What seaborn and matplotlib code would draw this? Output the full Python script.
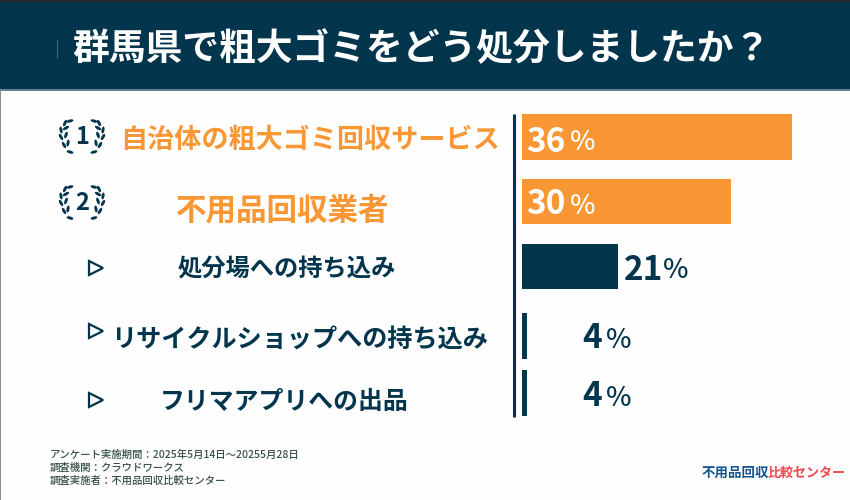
import matplotlib
matplotlib.use("Agg")
import matplotlib.pyplot as plt
import seaborn as sns
from matplotlib.patches import Ellipse, Rectangle

W, H = 850, 500

NAVY = "#03354d"
ORANGE = "#f89734"

TITLE = "群馬県で粗大ゴミをどう処分しましたか？"
answers = [
    "自治体の粗大ゴミ回収サービス",
    "不用品回収業者",
    "処分場への持ち込み",
    "リサイクルショップへの持ち込み",
    "フリマアプリへの出品",
]
# percentages as printed on the chart
share_labels = [36, 30, 21, 4, 4]
# bar lengths as drawn, they are not proportional to the printed numbers
bar_lengths = [36, 27.9, 12.8, 0.65, 0.65]
groups = ["top", "top", "other", "other", "other"]
notes = [
    "アンケート実施期間：2025年5月14日～20255月28日",
    "調査機関：クラウドワークス",
    "調査実施者：不用品回収比較センター",
]

# layout, in reference pixels
row_y = [137, 201.7, 266.2, 336, 393]
label_x = [310, 283, 287, 300, 284]
label_y = [140, 210, 269, 339, 402]
label_size = [19.5, 22, 17.5, 18.1, 17.9]
value_x = [526, 526, 624, 582, 582]
value_y = [142, 205, 270, 339, 397]
percent_x = [570, 570, 663, 606, 606]
marker_y = [267.5, 331, 399.5]

sns.set_theme(style="white")
plt.rcParams["font.family"] = ["Noto Sans CJK JP", "DejaVu Sans"]


def px_x(x):
    return x / W


def px_y(y):
    return 1 - y / H


fig = plt.figure(figsize=(W / 100, H / 100), dpi=100, facecolor="#fefefe")

# bars, the axes spans 0-36 over 522-792 px
ax = fig.add_axes([px_x(522), px_y(430), (792 - 522) / W, (430 - 100) / H])
ax.patch.set_alpha(0)
sns.barplot(
    x=bar_lengths,
    y=row_y,
    hue=groups,
    palette={"top": ORANGE, "other": NAVY},
    saturation=1,
    orient="h",
    native_scale=True,
    dodge=False,
    width=45 / 56.999,
    linewidth=0,
    edgecolor="none",
    legend=False,
    ax=ax,
)
ax.set_xlim(0, 36)
ax.set_ylim(430, 100)
ax.axis("off")

# overlay in pixel coordinates for the header, labels and icons
bg = fig.add_axes([0, 0, 1, 1])
bg.set_xlim(0, W)
bg.set_ylim(H, 0)
bg.axis("off")
bg.patch.set_alpha(0)
bg.add_patch(Rectangle((0, 0), W, 89, color=NAVY, lw=0))
bg.add_patch(Rectangle((0, 0), W, 1.5, color="#2a2a2a", lw=0))
bg.add_patch(Rectangle((0, 89), W, 1.5, color="#5f8291", lw=0))
bg.add_patch(Rectangle((0, 90), 1, H - 90, color="#8a8a8a", lw=0))
bg.plot([57, 57], [40, 58], color="#4d7081", lw=0.6)
bg.text(421, 50, TITLE, color="white", fontsize=26.5, fontweight="bold",
        ha="center", va="center")

# vertical baseline
bg.plot([514, 514], [114, 417], color=NAVY, lw=2.2, solid_capstyle="butt")

for i, answer in enumerate(answers):
    color = ORANGE if groups[i] == "top" else NAVY
    bg.text(label_x[i], label_y[i], answer, color=color, fontsize=label_size[i],
            fontweight="bold", ha="center", va="center")
    value_color = "white" if groups[i] == "top" else NAVY
    bg.text(value_x[i], value_y[i], str(share_labels[i]), color=value_color,
            fontsize=24, fontweight="bold", ha="left", va="center")
    bg.text(percent_x[i], value_y[i] + 1, "%", color=value_color, fontsize=19.5,
            fontweight="medium", ha="left", va="center")

# left half of a wreath: offset from the centre and leaf direction in degrees
leaves = [(-12, -16, -15), (-17, -14, -65), (-21, -7, -100), (-16, -9, -30),
          (-21, 0, 60), (-16, -2, -70), (-18, 8, 60), (-14, 6, -80), (-12, 15, 15)]


def laurel(cx, cy, rank):
    bg.text(cx, cy + 0.5, str(rank), color=NAVY, fontsize=17, fontweight="bold",
            ha="center", va="center")
    for side in (-1, 1):
        for ox, oy, angle in leaves:
            mirrored = angle if side < 0 else 180 - angle
            bg.add_patch(Ellipse((cx - side * ox, cy + oy), 7, 3,
                                 angle=mirrored, color=NAVY, lw=0))


laurel(82, 137, 1)
laurel(82, 203, 2)

for my in marker_y:
    bg.plot(96, my, marker=">", ms=10, mfc="none", mec=NAVY, mew=1.6)

for note, ny in zip(notes, [455, 468, 481]):
    bg.text(50, ny, note, color="#37504a", fontsize=7.5, fontweight="medium",
            ha="left", va="center")

bg.text(702, 473, "不用品回収", color="#14558f", fontsize=9.7,
        fontweight="bold", ha="left", va="center")
bg.text(768, 473, "比較センター", color="#f0474d", fontsize=9.4,
        fontweight="bold", ha="left", va="center")

fig.savefig("out.png", dpi=100, facecolor=fig.get_facecolor())
plt.close(fig)
